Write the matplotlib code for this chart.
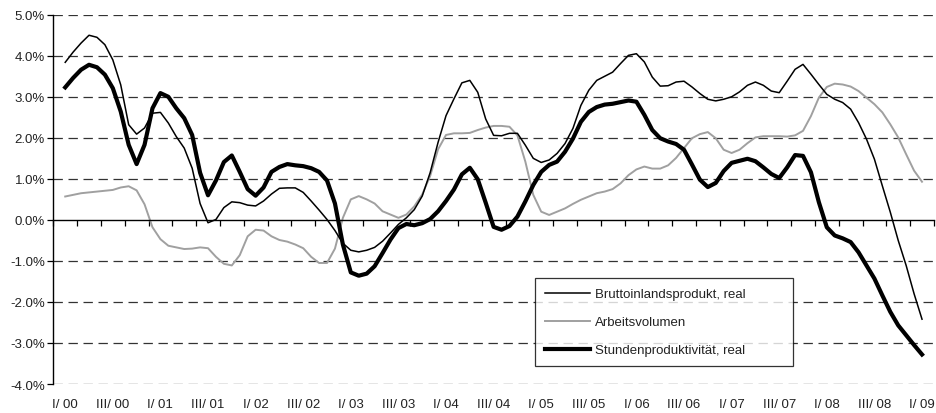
import numpy as np
import matplotlib
matplotlib.use("Agg")
import matplotlib.pyplot as plt
from matplotlib import transforms

plt.rcParams['font.family'] = ['Liberation Sans', 'DejaVu Sans']

# Monatswerte, Veränderung gegenüber Vorjahr in %, Jan 2000 bis Jan 2009
bip = [3.84, 4.09, 4.31, 4.50, 4.45, 4.27, 3.90, 3.29, 2.32, 2.09, 2.24, 2.60,
       2.62, 2.36, 2.03, 1.75, 1.26, 0.40, -0.07, 0.01, 0.30, 0.44, 0.42, 0.36,
       0.34, 0.46, 0.63, 0.77, 0.78, 0.78, 0.67, 0.46, 0.24, 0.01, -0.26, -0.57,
       -0.74, -0.78, -0.74, -0.67, -0.52, -0.32, -0.11, 0.05, 0.25, 0.58, 1.15, 1.89,
       2.54, 2.95, 3.34, 3.40, 3.11, 2.46, 2.06, 2.05, 2.11, 2.11, 1.82, 1.50,
       1.40, 1.46, 1.62, 1.86, 2.23, 2.79, 3.16, 3.40, 3.50, 3.60, 3.81, 4.01,
       4.05, 3.85, 3.48, 3.26, 3.27, 3.36, 3.38, 3.24, 3.08, 2.94, 2.90, 2.94,
       3.00, 3.12, 3.28, 3.36, 3.28, 3.14, 3.10, 3.38, 3.67, 3.79, 3.55, 3.30,
       3.06, 2.94, 2.86, 2.70, 2.37, 1.97, 1.48, 0.83, 0.19, -0.50, -1.11, -1.80,
       -2.42]

arbeitsvolumen = [0.57, 0.61, 0.65, 0.67, 0.69, 0.71, 0.73, 0.79, 0.82, 0.72, 0.38, -0.18,
                  -0.47, -0.63, -0.67, -0.71, -0.70, -0.67, -0.69, -0.90, -1.07, -1.11, -0.86, -0.40,
                  -0.24, -0.26, -0.40, -0.49, -0.53, -0.60, -0.69, -0.90, -1.05, -1.05, -0.70, 0.05,
                  0.50, 0.58, 0.50, 0.40, 0.21, 0.13, 0.05, 0.13, 0.33, 0.62, 1.07, 1.72,
                  2.07, 2.11, 2.11, 2.12, 2.19, 2.25, 2.29, 2.29, 2.27, 2.06, 1.42, 0.61,
                  0.20, 0.12, 0.20, 0.28, 0.39, 0.49, 0.57, 0.65, 0.69, 0.75, 0.89, 1.09,
                  1.23, 1.30, 1.25, 1.25, 1.33, 1.51, 1.75, 1.99, 2.09, 2.14, 1.99, 1.71,
                  1.63, 1.71, 1.87, 2.01, 2.04, 2.04, 2.04, 2.03, 2.06, 2.17, 2.53, 2.98,
                  3.24, 3.32, 3.30, 3.25, 3.14, 2.98, 2.82, 2.62, 2.33, 2.01, 1.60, 1.20,
                  0.93]

produktivitaet = [3.23, 3.46, 3.66, 3.78, 3.72, 3.54, 3.21, 2.64, 1.83, 1.36, 1.83, 2.72,
                  3.09, 3.00, 2.72, 2.48, 2.07, 1.15, 0.60, 0.96, 1.41, 1.57, 1.17, 0.75,
                  0.59, 0.79, 1.17, 1.29, 1.36, 1.33, 1.31, 1.26, 1.17, 0.96, 0.40, -0.60,
                  -1.28, -1.36, -1.31, -1.13, -0.81, -0.48, -0.20, -0.10, -0.13, -0.08, 0.02, 0.21,
                  0.46, 0.74, 1.11, 1.27, 0.99, 0.42, -0.17, -0.24, -0.15, 0.08, 0.45, 0.85,
                  1.17, 1.34, 1.42, 1.66, 1.98, 2.39, 2.63, 2.75, 2.81, 2.83, 2.87, 2.91,
                  2.88, 2.56, 2.19, 1.99, 1.91, 1.85, 1.71, 1.35, 0.98, 0.80, 0.90, 1.19,
                  1.39, 1.44, 1.49, 1.43, 1.28, 1.12, 1.02, 1.28, 1.58, 1.56, 1.16, 0.43,
                  -0.18, -0.38, -0.45, -0.54, -0.79, -1.11, -1.43, -1.84, -2.24, -2.57, -2.81, -3.05,
                  -3.28]

quartale = ["I", "II", "III", "IV"]
jahre = ["00", "01", "02", "03", "04", "05", "06", "07", "08", "09"]
labels = [f"{q}/ {j}" for j in jahre for q in quartale][:37]

# x in Quartalen (Monat / 3)
x = np.arange(len(bip)) / 3.0

fig = plt.figure(figsize=(9.37, 4.14), dpi=100)
ax = fig.add_axes([0.0569, 0.070, 0.9398, 0.892])

for yv in range(-4, 6):
    if yv != 0:
        ax.axhline(yv, color='#333333', lw=0.9, dashes=(7.5, 4.5), zorder=1)

ax.plot(x, bip, color='black', lw=1.1, label='Bruttoinlandsprodukt, real',
        solid_joinstyle='round', zorder=3)
ax.plot(x, arbeitsvolumen, color='#a0a0a0', lw=1.4, label='Arbeitsvolumen',
        solid_joinstyle='round', zorder=2)
ax.plot(x, produktivitaet, color='black', lw=3.0, label='Stundenproduktivität, real',
        solid_joinstyle='round', zorder=4)

ax.set_xlim(-0.5, 36.5)
ax.set_ylim(-4, 5)

ax.spines['top'].set_visible(False)
ax.spines['right'].set_visible(False)
ax.spines['bottom'].set_position(('data', 0))
ax.spines['bottom'].set_linewidth(1.0)
ax.spines['left'].set_linewidth(1.0)

ax.set_xticks(np.arange(-0.5, 37, 1.0))
ax.tick_params(axis='x', direction='out', length=4, width=0.9, labelbottom=False)
ax.set_yticks(range(-4, 6))
ax.set_yticklabels([f"{v:.1f}%" for v in range(-4, 6)])
ax.tick_params(axis='y', direction='out', length=4, width=0.9, labelsize=9.5,
               labelcolor='#222222', pad=2)

trans = transforms.blended_transform_factory(ax.transData, ax.transAxes)
for i in range(0, 37, 2):
    ax.text(i, -0.038, labels[i], transform=trans, ha='center', va='top',
            fontsize=9.5, color='#222222')

leg = ax.legend(loc='upper left', bbox_to_anchor=(0.571, 0.116, 0.275, 0.21),
                bbox_transform=fig.transFigure, mode='expand',
                fontsize=9.5, frameon=True, fancybox=False, handlelength=3.4,
                labelspacing=1.2, borderpad=0.75, handletextpad=0.4,
                borderaxespad=0)
leg.get_frame().set_edgecolor('black')
leg.get_frame().set_linewidth(0.9)
for t in leg.get_texts():
    t.set_color('#222222')

fig.savefig("out.png", dpi=100)
